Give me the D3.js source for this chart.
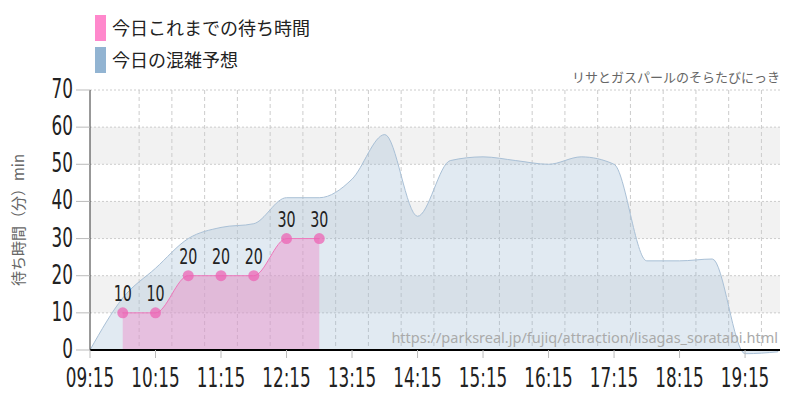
<!DOCTYPE html>
<html><head><meta charset="utf-8">
<script src="https://cdn.jsdelivr.net/npm/d3@7"></script>
<style>body{margin:0;background:#fff}</style>
</head><body>
<script>
const forecastTimes = ["09:15","09:45","10:15","10:45","11:15","11:45","12:15","12:45","13:15","13:45","14:15","14:45","15:15","15:45","16:15","16:45","17:15","17:45","18:15","18:45","19:15","19:45"];
const forecastValues = [0,14,22,30,33,34,41,41,46,58,36,51,52,51,50,52,50,24,24,24.5,-1,-0.5];
const actualTimes = ["09:45","10:15","10:45","11:15","11:45","12:15","12:45"];
const actualValues = [10,10,20,20,20,30,30];
const xTickLabels = ["09:15","10:15","11:15","12:15","13:15","14:15","15:15","16:15","17:15","18:15","19:15"];
const yTicks = [0,10,20,30,40,50,60,70];

const W = 800, H = 400;
const parse = d3.timeParse("%H:%M");
const svg = d3.select("body").append("svg").attr("width", W).attr("height", H);
const x = d3.scaleTime().domain([parse("09:15"), parse("19:47")]).range([90, 780]);
const y = d3.scaleLinear().domain([0, 70]).range([350, 90]);
const cond = "'Liberation Sans Narrow','DejaVu Sans Condensed',sans-serif";

// narrow tall numbers, squeezed horizontally
function numText(px, py, anchor, size, s) {
  svg.append("text").attr("transform", `translate(${px},${py}) scale(0.72,1)`)
    .attr("text-anchor", anchor).attr("font-family", cond).attr("font-size", size).attr("fill", "#222").text(s);
}

// bands
[10, 30, 50].forEach(v => {
  svg.append("rect").attr("x", 90).attr("width", 690).attr("y", y(v + 10)).attr("height", y(v) - y(v + 10)).attr("fill", "#f2f2f2");
});
// grid
yTicks.slice(1).forEach(v => {
  svg.append("line").attr("x1", 90).attr("x2", 780).attr("y1", y(v)).attr("y2", y(v))
    .attr("stroke", "#ccc").attr("stroke-dasharray", "2,2");
});
d3.timeMinute.every(30).range(parse("09:45"), parse("19:47")).forEach(t => {
  svg.append("line").attr("x1", x(t)).attr("x2", x(t)).attr("y1", 90).attr("y2", 350)
    .attr("stroke", "#ccc").attr("stroke-dasharray", "4,3");
});

// forecast area
const fData = forecastTimes.map((t, i) => ({t: parse(t), v: forecastValues[i]}));
svg.append("path").datum(fData)
  .attr("d", d3.area().curve(d3.curveMonotoneX).x(d => x(d.t)).y0(y(0)).y1(d => y(d.v)))
  .attr("fill", "rgba(146,178,208,0.28)").attr("stroke", "#a9c0d6").attr("stroke-width", 1);

// actual area
const aData = actualTimes.map((t, i) => ({t: parse(t), v: actualValues[i]}));
svg.append("path").datum(aData)
  .attr("d", d3.area().curve(d3.curveMonotoneX).x(d => x(d.t)).y0(y(0)).y1(d => y(d.v)))
  .attr("fill", "rgba(238,140,200,0.45)");
svg.append("path").datum(aData)
  .attr("d", d3.line().curve(d3.curveMonotoneX).x(d => x(d.t)).y(d => y(d.v)))
  .attr("fill", "none").attr("stroke", "#ee77bb").attr("stroke-width", 1);
svg.selectAll(".dot").data(aData).enter().append("circle")
  .attr("cx", d => x(d.t)).attr("cy", d => y(d.v)).attr("r", 5.5).attr("fill", "rgba(236,100,180,0.75)");
aData.forEach(d => numText(x(d.t), y(d.v) - 12, "middle", 22, d.v));

// axes
svg.append("line").attr("x1", 90).attr("x2", 780).attr("y1", 350).attr("y2", 350).attr("stroke", "#000").attr("stroke-width", 2);
svg.append("line").attr("x1", 90).attr("x2", 90).attr("y1", 90).attr("y2", 350).attr("stroke", "#333").attr("stroke-width", 1);
yTicks.forEach(v => {
  svg.append("line").attr("x1", 76).attr("x2", 90).attr("y1", y(v)).attr("y2", y(v)).attr("stroke", "#bbb");
  numText(73, y(v) + 8, "end", 26, v);
});
xTickLabels.forEach(s => {
  const px = x(parse(s));
  svg.append("line").attr("x1", px).attr("x2", px).attr("y1", 350).attr("y2", 358).attr("stroke", "#bbb");
  numText(px, 387, "middle", 26, s);
});

svg.append("text").attr("transform", "translate(24,220) rotate(-90)").attr("text-anchor", "middle")
  .attr("font-family", "'Noto Sans CJK JP',sans-serif").attr("font-size", 15).attr("fill", "#666").text("待ち時間（分）min");
svg.append("text").attr("x", 780).attr("y", 82).attr("text-anchor", "end")
  .attr("font-family", "'Noto Sans CJK JP',sans-serif").attr("font-size", 13).attr("fill", "#666").text("リサとガスパールのそらたびにっき");
svg.append("text").attr("x", 778).attr("y", 343).attr("text-anchor", "end")
  .attr("font-family", "'Noto Sans',sans-serif").attr("font-size", 14.5).attr("fill", "#aaa").text("https://parksreal.jp/fujiq/attraction/lisagas_soratabi.html");

// legend
[["#ff88cc", "今日これまでの待ち時間", 15], ["#92b4d2", "今日の混雑予想", 47]].forEach(([c, t, yy]) => {
  svg.append("rect").attr("x", 95).attr("y", yy).attr("width", 11).attr("height", 26).attr("fill", c);
  svg.append("text").attr("x", 112).attr("y", yy + 20).attr("font-family", "'Noto Sans CJK JP',sans-serif")
    .attr("font-size", 18).attr("fill", "#222").text(t);
});
</script>
</body></html>
